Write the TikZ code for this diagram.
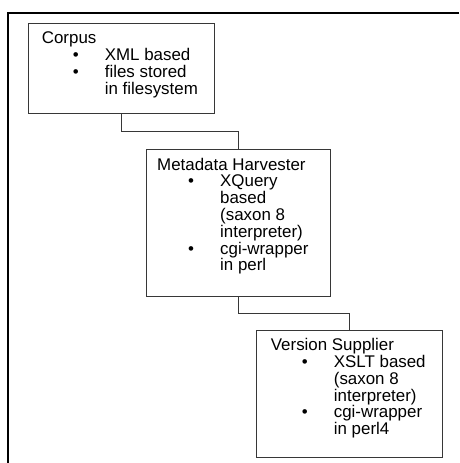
\documentclass[tikz,border=0pt]{standalone}
\usepackage{fontspec}
\setmainfont{Liberation Sans}
\definecolor{boxline}{RGB}{55,55,55}
\tikzstyle{box}=[draw=boxline, line width=0.9pt, anchor=north west, inner sep=0pt]
\tikzstyle{label}=[anchor=base west, inner sep=0pt, align=left, font=\fontsize{16.9}{16.8}\selectfont]
\tikzset{link/.style={draw=boxline, line width=0.9pt}}
\newcommand{\itm}[1]{\hspace*{31pt}\makebox[32pt][l]{\textbullet}#1}
\newcommand{\cnt}[1]{\hspace*{63pt}#1}

\begin{document}
\begin{tikzpicture}[x=1pt,y=-1pt]
  \useasboundingbox (0,0) rectangle (459,463);
  %% outer frame
  \draw[line width=1.6pt] (459,13) -| (8,463);

  \draw (28,23) node[box,minimum width=186pt,minimum height=90pt] (corpus) {};
  \draw (146,149) node[box,minimum width=184pt,minimum height=147pt] (harvester) {};
  \draw (256,330) node[box,minimum width=186pt,minimum height=127pt] (supplier) {};

  %% base of a text is its last line
  \node[label] (corpustext) at ([xshift=13.7pt,yshift=-71.1pt]corpus.north west)
    {Corpus\\ \itm{XML based}\\ \itm{files stored}\\ \cnt{in filesystem}};
  \node[label] (harvestertext) at ([xshift=11pt,yshift=-121.8pt]harvester.north west)
    {Metadata Harvester\\ \itm{XQuery}\\ \cnt{based}\\ \cnt{(saxon 8}\\ \cnt{interpreter)}\\ \itm{cgi-wrapper}\\ \cnt{in perl}};
  \node[label] (suppliertext) at ([xshift=14.7pt,yshift=-104.7pt]supplier.north west)
    {Version Supplier\\ \itm{XSLT based}\\ \cnt{(saxon 8}\\ \cnt{interpreter)}\\ \itm{cgi-wrapper}\\ \cnt{in perl4}};

  %% connectors
  \draw[link] (corpus.south) -- ++(0,18) -| (harvester.north);
  \draw[link] (harvester.south) -- ++(0,17) -| (supplier.north);
\end{tikzpicture}
\end{document}
